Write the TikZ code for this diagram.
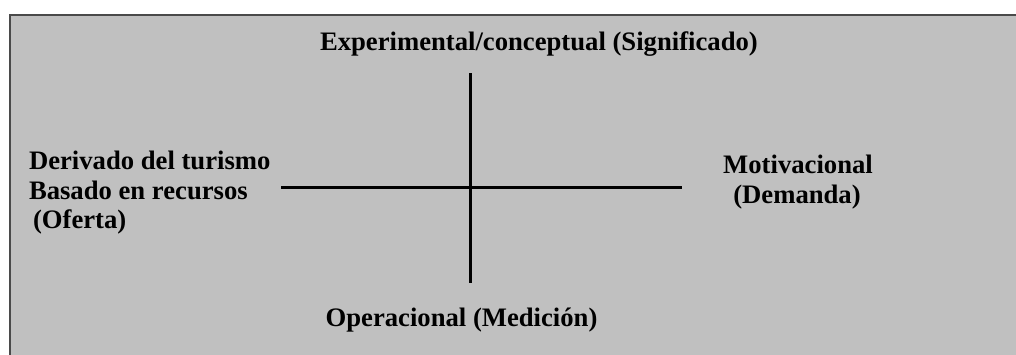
\documentclass[tikz,border=0pt]{standalone}
\usepackage{fontspec}
\setmainfont{Liberation Serif}
\definecolor{panelfill}{HTML}{C0C0C0}
\definecolor{paneledge}{HTML}{4A4A4A}
\begin{document}
\begin{tikzpicture}[x=0.75pt,y=-0.75pt,
  lbl/.style={font=\fontsize{20}{22.5}\selectfont\bfseries, inner sep=0pt, outer sep=0pt},
  axis/.style={line width=2pt, black}]
  \useasboundingbox (0,0) rectangle (1016,354);
  \fill[white] (0,0) rectangle (1016,354);
  % grey panel, running past the right and bottom edges
  \draw[fill=panelfill, draw=paneledge, line width=1.5pt] (9.5,15) rectangle (1040,380);

  % the two axes
  \coordinate (top) at (470.5,73);
  \coordinate (bottom) at (470.5,283);
  \coordinate (left) at (281,187.5);
  \coordinate (right) at (682,187.5);
  \draw[axis] (top) -- (bottom);
  \draw[axis] (left) -- (right);

  % axis labels
  \node[lbl, anchor=base west] (north) at (320,50) {Experimental/conceptual (Significado)};
  \node[lbl, anchor=base] (south) at (461.5,326) {Operacional (Medición)};
  \node[lbl, anchor=base west] (west1) at (29,169) {Derivado del turismo};
  \node[lbl, anchor=base west] (west2) at (29,199) {Basado en recursos};
  \node[lbl, anchor=base west] (west3) at (33,228) {(Oferta)};
  \node[lbl, anchor=base] (east1) at (798,173) {Motivacional};
  \node[lbl, anchor=base] (east2) at (797,203) {(Demanda)};
\end{tikzpicture}
\end{document}
